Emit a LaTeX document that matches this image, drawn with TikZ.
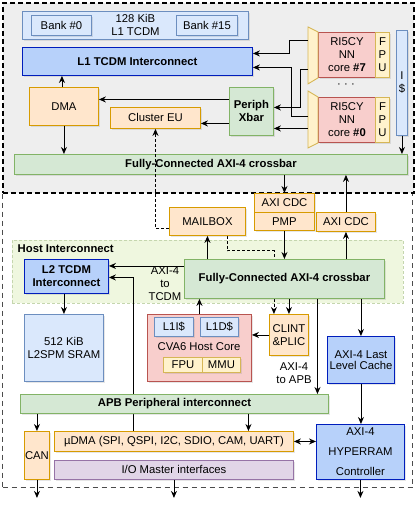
\documentclass[tikz,border=0pt]{standalone}
\usepackage{fontspec}
\setmainfont{Liberation Sans}
\usetikzlibrary{arrows.meta,shadows}
\definecolor{orfill}{HTML}{FFE6CC}
\definecolor{ordraw}{HTML}{D79B00}
\definecolor{grfill}{HTML}{D5E8D4}
\definecolor{grdraw}{HTML}{82B366}
\definecolor{blfill}{HTML}{DAE8FC}
\definecolor{bldraw}{HTML}{6C8EBF}
\definecolor{icfill}{HTML}{B7D1FA}
\definecolor{icdraw}{HTML}{001DBC}
\definecolor{rdfill}{HTML}{F8CECC}
\definecolor{rddraw}{HTML}{B85450}
\definecolor{ylfill}{HTML}{FFF2CC}
\definecolor{yldraw}{HTML}{D6B656}
\definecolor{pufill}{HTML}{E1D5E7}
\definecolor{pudraw}{HTML}{9673A6}
\definecolor{hostfill}{HTML}{EFF7DF}
\definecolor{hostdraw}{HTML}{C5D6AE}
\definecolor{clfill}{HTML}{EEEEEE}
\pgfdeclarelayer{back}
\pgfdeclarelayer{wires}
\pgfsetlayers{back,wires,main}

\begin{document}
\begin{tikzpicture}
        [
            x=1pt, y=-1pt,
            every node/.style={font=\fontsize{11.3}{13}\selectfont, align=center, inner sep=0.5pt},
            bftext/.style={font=\fontsize{11.3}{13}\selectfont\bfseries},
            blk/.style={draw, line width=0.9pt, anchor=north west,
                drop shadow={shadow xshift=1.4pt, shadow yshift=-1.4pt, opacity=0.2}},
            unit/.style={blk, fill=orfill, draw=ordraw},
            xbar/.style={blk, bftext, fill=grfill, draw=grdraw},
            mem/.style={blk, fill=blfill, draw=bldraw},
            ic/.style={blk, fill=icfill, draw=icdraw},
            core/.style={blk, fill=rdfill, draw=rddraw},
            fpu/.style={blk, fill=ylfill, draw=yldraw},
            io/.style={blk, fill=pufill, draw=pudraw},
            mux/.style={fill=ylfill, draw=yldraw, line width=0.9pt},
            arr/.style={-{Stealth[length=7pt,width=6pt]}, line width=0.9pt},
            darr/.style={arr, dash pattern=on 3pt off 2pt},
            biarr/.style={{Stealth[length=7pt,width=6pt]}-{Stealth[length=7pt,width=6pt]}, line width=0.9pt},
            region/.style={anchor=north west, inner sep=0pt},
        ]
        \node[mem, minimum width=226, minimum height=28] (l1mem) at (22,11) {128 KiB\\L1 TCDM};
        \node[mem, minimum width=60, minimum height=20] (bank0) at (31,15) {Bank \#0};
        \node[mem, minimum width=61, minimum height=20] (bank15) at (176,15) {Bank \#15};
        \node[ic, bftext, minimum width=230, minimum height=28] (l1ic) at (22,47) {L1 TCDM Interconnect};
        \node[unit, minimum width=69, minimum height=38] (dma) at (29,87) {DMA};
        \node[unit, minimum width=90, minimum height=21] (eu) at (110,107) {Cluster EU};
        \node[xbar, minimum width=44, minimum height=48] (pxbar) at (229,87) {Periph\\Xbar};
        \node[core, minimum width=57, minimum height=45] (core7) at (318,32) {RI5CY\\NN\\core \textbf{\#7}};
        \node[fpu, minimum width=14, minimum height=45] (fpu7) at (375,32) {F\\P\\U};
        \node (dots) at (346,86) {· · ·};
        \node[core, minimum width=57, minimum height=45] (core0) at (318,97) {RI5CY\\NN\\core \textbf{\#0}};
        \node[fpu, minimum width=14, minimum height=45] (fpu0) at (375,97) {F\\P\\U};
        \node[mem, minimum width=11, minimum height=105] (icache) at (396,30) {I\\\$};
        \node[xbar, minimum width=393, minimum height=20] (cxbar) at (14,154) {Fully-Connected AXI-4 crossbar};

        \draw[mux] ([xshift=-10,yshift=5]core7.north west) -- (core7.north west)
            -- (core7.south west) -- ([xshift=-10,yshift=-6]core7.south west) -- cycle;
        \draw[mux] ([xshift=-10,yshift=6]core0.north west) -- (core0.north west)
            -- (core0.south west) -- ([xshift=-10,yshift=-5]core0.south west) -- cycle;
        \coordinate (m7a) at ([xshift=-10,yshift=14.5]core7.west);
        \coordinate (m7b) at ([xshift=-10,yshift=-14.5]core7.west);
        \coordinate (m0a) at ([xshift=-10,yshift=3.5]core0.west);
        \coordinate (m0b) at ([xshift=-10,yshift=-8.5]core0.west);

        \node[unit, minimum width=76, minimum height=28] (mailbox) at (169,207) {MAILBOX};
        \node[unit, minimum width=60, minimum height=19] (cdc1) at (254,193) {AXI CDC};
        \node[unit, minimum width=60, minimum height=18] (pmp) at (254,212) {PMP};
        \node[unit, minimum width=59, minimum height=19] (cdc2) at (316,212) {AXI CDC};
        \node[bftext, anchor=west] (hostlbl) at (17,249) {Host Interconnect};
        \node[ic, bftext, minimum width=84, minimum height=34] (l2ic) at (24,259) {L2 TCDM\\Interconnect};
        \node[xbar, minimum width=200, minimum height=39] (hxbar) at (184,259) {Fully-Connected AXI-4 crossbar};
        \node (tcdmlbl) at (165,284) {AXI-4\\to\\TCDM};
        \node[mem, minimum width=79, minimum height=67] (sram) at (24,314) {512 KiB\\L2SPM SRAM};
        \node[core, minimum width=104, minimum height=67] (cva6) at (147,314) {};
        \node[mem, minimum width=39, minimum height=19] (l1i) at (154,317) {L1I\$};
        \node[mem, minimum width=38, minimum height=19] (l1d) at (200,317) {L1D\$};
        \node (cva6lbl) at (199,347) {CVA6 Host Core};
        \node[fpu, minimum width=39, minimum height=15] (cfpu) at (163,357) {FPU};
        \node[fpu, minimum width=38, minimum height=15] (mmu) at (202,357) {MMU};
        \node[unit, minimum width=39, minimum height=41] (clint) at (269,314) {CLINT\\\&PLIC};
        \node (apblbl) at (294,373) {AXI-4\\to APB};
        \node[ic, minimum width=67, minimum height=47, font=\fontsize{11.3}{10.5}\selectfont] (llc) at (327,336) {AXI-4 Last\\Level Cache};
        \node[xbar, minimum width=308, minimum height=19] (apb) at (20,394) {APB Peripheral interconnect};
        \node[unit, minimum width=25, minimum height=48] (can) at (24,431) {CAN};
        \node[unit, minimum width=239, minimum height=20] (udma) at (54,431) {µDMA (SPI, QSPI, I2C, SDIO, CAM, UART)};
        \node[io, minimum width=239, minimum height=19] (iom) at (54,460) {I/O Master interfaces};
        \node[ic, minimum width=88, minimum height=55] (hyper) at (316,424) {AXI-4\\[7pt]HYPERRAM\\[7pt]Controller};
        \coordinate (canout) at ([yshift=-18]can.south);
        \coordinate (ioout) at ([yshift=-18]iom.south);
        \coordinate (hyperout) at ([yshift=-18]hyper.south);

        \begin{pgfonlayer}{back}
            \node[region, draw=black!70, line width=1.3pt, dash pattern=on 5pt off 4pt,
                minimum width=410, minimum height=295] (soc) at (2,192) {};
            \node[region, draw, fill=clfill, line width=1.6pt, dash pattern=on 5pt off 3pt,
                minimum width=411, minimum height=190] (cluster) at (2,2) {};
            \node[region, draw=hostdraw, fill=hostfill, line width=0.8pt, dash pattern=on 3pt off 2pt,
                minimum width=391, minimum height=63] (host) at (12,240) {};
        \end{pgfonlayer}

        \begin{pgfonlayer}{wires}
            \draw[arr] ([xshift=79]udma.north west) |- ([yshift=-1]l2ic.east);
            \draw[darr] ([xshift=20]mailbox.south) -- ++(0,15) -| ([xshift=-15]clint.north);
        \end{pgfonlayer}

        \draw[arr] ([xshift=-2]dma.north) -- ([xshift=-2]dma.north |- l1ic.south);
        \draw[arr] (dma.south) -- (dma.south |- cxbar.north);
        \draw[arr] ([yshift=12]pxbar.west) -- ([yshift=12]pxbar.west -| dma.east);
        \draw[arr] ([yshift=-12]pxbar.west) -- ([yshift=-12]pxbar.west -| eu.east);
        \draw[arr] (m7a) -- ++(-19,0) |- ([yshift=8]l1ic.east);
        \draw[arr] (m7b) -- ++(-8,0) |- ([yshift=4]pxbar.east);
        \draw[arr] (m0a) -- ++(-17,0) |- ([yshift=-6]l1ic.east);
        \draw[arr] (m0b) -- (m0b -| pxbar.east);
        \draw[arr] (icache.south) -- (icache.south |- cxbar.north);
        \draw[arr] (cdc1.north |- cxbar.south) -- (cdc1.north);
        \draw[arr] (cdc2.north) -- (cdc2.north |- cxbar.south);
        \draw[darr] ([yshift=-7]mailbox.west) -| (eu.south);

        \draw[arr] ([yshift=13]hxbar.west) -- ([yshift=13]hxbar.west -| l2ic.east);
        \draw[arr] (mailbox.south |- hxbar.north) -- (mailbox.south);
        \draw[arr] (pmp.south) -- (pmp.south |- hxbar.north);
        \draw[arr] (cdc2.south |- hxbar.north) -- (cdc2.south);
        \draw[arr] (clint.north |- hxbar.south) -- (clint.north);
        \draw[arr] (clint.west) -- (clint.west -| cva6.east);
        \draw[arr] (cva6.north) -- (cva6.north |- hxbar.south);
        \draw[arr] (sram.north |- l2ic.south) -- (sram.north);
        \draw[arr] ([xshift=33]hxbar.south) -- ([xshift=33]hxbar.south |- apb.north);
        \draw[arr] (llc.north |- hxbar.south) -- (llc.north);
        \draw[arr] (llc.south) -- (llc.south |- hyper.north);
        \draw[arr] (can.north |- apb.south) -- (can.north);
        \draw[arr] ([xshift=74.5]udma.north |- apb.south) -- ([xshift=74.5]udma.north);
        \draw[biarr] (udma.east) -- (udma.east -| hyper.west);
        \draw[arr] (can.south) -- (canout);
        \draw[arr] (iom.south) -- (ioout);
        \draw[arr] (hyper.south) -- (hyperout);

        \useasboundingbox (0,0) rectangle (415,510);
    \end{tikzpicture}
\end{document}
